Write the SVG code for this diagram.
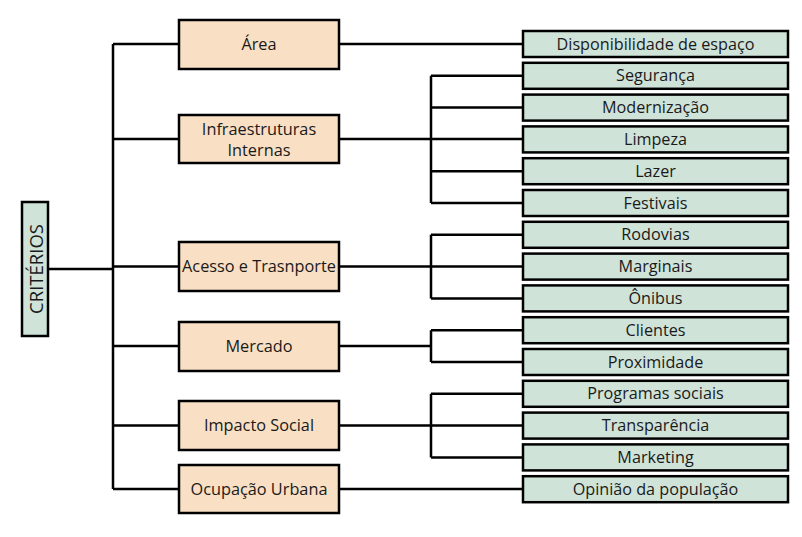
<svg xmlns="http://www.w3.org/2000/svg" width="802" height="537" viewBox="0 0 802 537">
<style>
.mid rect{fill:#f9dfc3;stroke:#000;stroke-width:2.5}
.leaf rect,.root rect{fill:#d0e3d9;stroke:#000;stroke-width:2.5}
text{font-family:"Open Sans","Liberation Sans",sans-serif;fill:#1a1a1a;text-anchor:middle;dominant-baseline:central}
.mid text{font-size:16.3px}
.leaf text{font-size:16.2px}
.root text{font-size:18.5px}
#connectors path{fill:none;stroke:#000;stroke-width:2.5}
</style>
<rect width="802" height="537" fill="#fff"/>
<g id="connectors">
<path d="M48 269H113M113 44V489M113 44H179M113 139H179M113 266.6H179M113 346H179M113 425.6H179M113 489H179"/>
<path d="M339 44H523"/>
<path d="M339 139H523M431 75.8V203M431 75.8H523M431 107.6H523M431 171.2H523M431 203H523"/>
<path d="M339 266.6H523M431 234.8V298.4M431 234.8H523M431 298.4H523"/>
<path d="M339 346H431M431 330.2V362M431 330.2H523M431 362H523"/>
<path d="M339 425.6H523M431 393.8V457.4M431 393.8H523M431 457.4H523"/>
<path d="M339 489H523"/>
</g>
<g id="criterios" class="root"><rect x="22" y="202" width="26" height="134"/><text transform="translate(35.5 269) rotate(-90)">CRITÉRIOS</text></g>
<g id="area" class="mid"><rect x="179" y="20" width="160" height="49"/><text x="259" y="44">Área</text></g>
<g id="infra" class="mid"><rect x="179" y="115" width="160" height="48"/><text x="259" y="128.5">Infraestruturas</text><text x="259" y="149.5">Internas</text></g>
<g id="acesso" class="mid"><rect x="179" y="242" width="160" height="49"/><text x="259" y="266">Acesso e Trasnporte</text></g>
<g id="mercado" class="mid"><rect x="179" y="322" width="160" height="49"/><text x="259" y="345.5">Mercado</text></g>
<g id="impacto" class="mid"><rect x="179" y="401" width="160" height="49"/><text x="259" y="424.5">Impacto Social</text></g>
<g id="ocupacao" class="mid"><rect x="179" y="465" width="160" height="48"/><text x="259" y="488.5">Ocupação Urbana</text></g>
<g id="l1" class="leaf"><rect x="523" y="31" width="265" height="26"/><text x="655.5" y="43.5">Disponibilidade de espaço</text></g>
<g id="l2" class="leaf"><rect x="523" y="62.8" width="265" height="26"/><text x="655.5" y="75.3">Segurança</text></g>
<g id="l3" class="leaf"><rect x="523" y="94.6" width="265" height="26"/><text x="655.5" y="107.1">Modernização</text></g>
<g id="l4" class="leaf"><rect x="523" y="126.4" width="265" height="26"/><text x="655.5" y="138.9">Limpeza</text></g>
<g id="l5" class="leaf"><rect x="523" y="158.2" width="265" height="26"/><text x="655.5" y="170.7">Lazer</text></g>
<g id="l6" class="leaf"><rect x="523" y="190" width="265" height="26"/><text x="655.5" y="202.5">Festivais</text></g>
<g id="l7" class="leaf"><rect x="523" y="221.8" width="265" height="26"/><text x="655.5" y="234.3">Rodovias</text></g>
<g id="l8" class="leaf"><rect x="523" y="253.6" width="265" height="26"/><text x="655.5" y="266.1">Marginais</text></g>
<g id="l9" class="leaf"><rect x="523" y="285.4" width="265" height="26"/><text x="655.5" y="297.9">Ônibus</text></g>
<g id="l10" class="leaf"><rect x="523" y="317.2" width="265" height="26"/><text x="655.5" y="329.7">Clientes</text></g>
<g id="l11" class="leaf"><rect x="523" y="349" width="265" height="26"/><text x="655.5" y="361.5">Proximidade</text></g>
<g id="l12" class="leaf"><rect x="523" y="380.8" width="265" height="26"/><text x="655.5" y="393.3">Programas sociais</text></g>
<g id="l13" class="leaf"><rect x="523" y="412.6" width="265" height="26"/><text x="655.5" y="425.1">Transparência</text></g>
<g id="l14" class="leaf"><rect x="523" y="444.4" width="265" height="26"/><text x="655.5" y="456.9">Marketing</text></g>
<g id="l15" class="leaf"><rect x="523" y="476.2" width="265" height="26"/><text x="655.5" y="488.7">Opinião da população</text></g>
</svg>
